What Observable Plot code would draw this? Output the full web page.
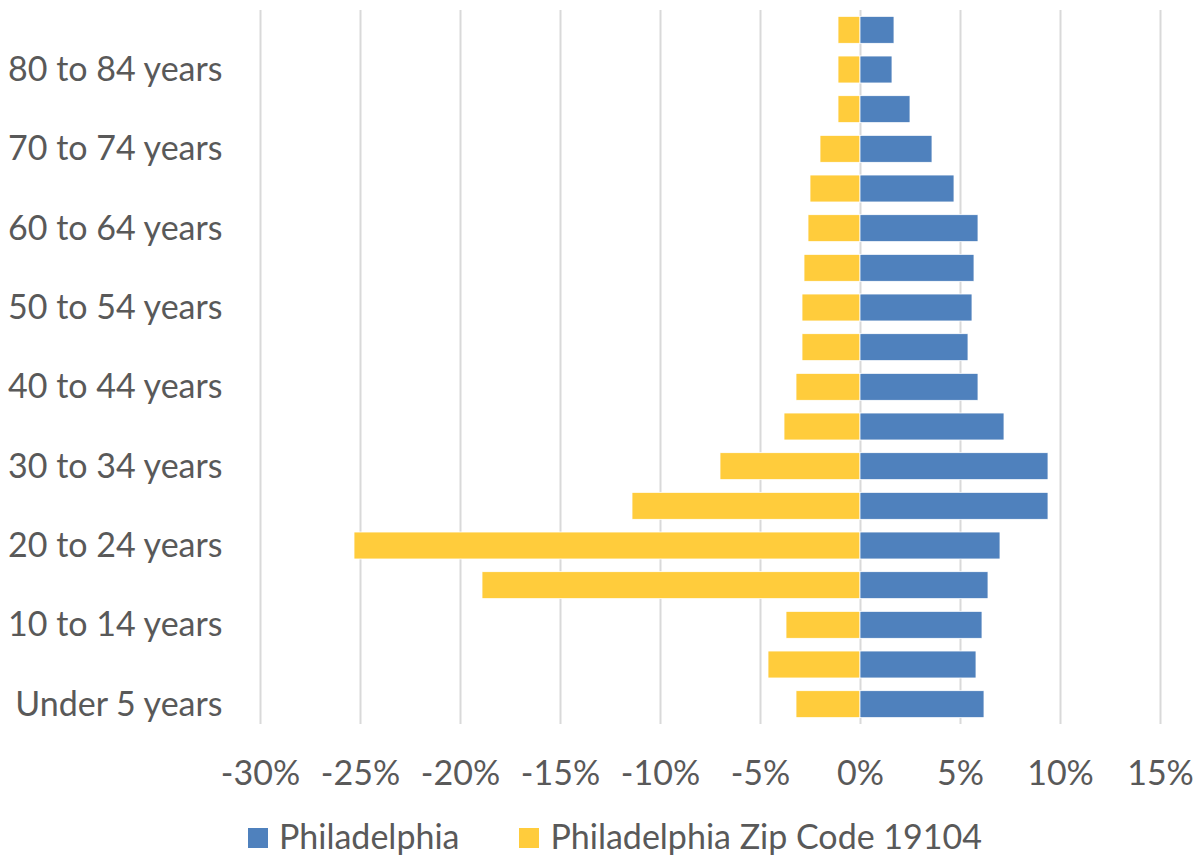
<!DOCTYPE html>
<html>
<head>
<meta charset="utf-8">
<script src="https://cdn.jsdelivr.net/npm/d3@7"></script>
<script src="https://cdn.jsdelivr.net/npm/@observablehq/plot@0.6"></script>
<style>
  html, body { margin: 0; padding: 0; background: #fff; }
  #chart { width: 1197px; height: 856px; position: relative; overflow: hidden; }
  #legend { position: absolute; left: 248px; top: 819px; display: flex; align-items: center;
            font-family: Lato, sans-serif; font-size: 34px; line-height: 34px; color: #595959; white-space: nowrap; }
  .item { display: flex; align-items: center; }
  .sw { width: 20px; height: 20px; margin-right: 11px; margin-top: 4px; }
</style>
</head>
<body>
<div id="chart"></div>
<script>
// Age groups, bottom to top
const ageGroups = [
  "Under 5 years", "5 to 9 years", "10 to 14 years", "15 to 19 years", "20 to 24 years",
  "25 to 29 years", "30 to 34 years", "35 to 39 years", "40 to 44 years", "45 to 49 years",
  "50 to 54 years", "55 to 59 years", "60 to 64 years", "65 to 69 years", "70 to 74 years",
  "75 to 79 years", "80 to 84 years", "85 years and over"
];
// Percent of population (Philadelphia on the right, zip 19104 as negatives on the left)
const philadelphia = [6.2, 5.8, 6.1, 6.4, 7.0, 9.4, 9.4, 7.2, 5.9, 5.4, 5.6, 5.7, 5.9, 4.7, 3.6, 2.5, 1.6, 1.7];
const zip19104 = [-3.2, -4.6, -3.7, -18.9, -25.3, -11.4, -7.0, -3.8, -3.2, -2.9, -2.9, -2.8, -2.6, -2.5, -2.0, -1.1, -1.1, -1.1];
const seriesNames = ["Philadelphia", "Philadelphia Zip Code 19104"];
const seriesColors = ["#4f81bd", "#ffcc3c"];
const xTicks = [-30, -25, -20, -15, -10, -5, 0, 5, 10, 15];
const yTickLabels = ["Under 5 years", "10 to 14 years", "20 to 24 years", "30 to 34 years",
  "40 to 44 years", "50 to 54 years", "60 to 64 years", "70 to 74 years", "80 to 84 years"];

const rowsA = philadelphia.map((v, i) => ({age: ageGroups[i], value: v}));
const rowsB = zip19104.map((v, i) => ({age: ageGroups[i], value: v}));

const chart = Plot.plot({
  width: 1197,
  height: 805,
  marginLeft: 260,
  marginRight: 37,
  marginTop: 10,
  marginBottom: 81,
  style: {fontFamily: "Lato, sans-serif", fontSize: "34px", color: "#595959", background: "#fff"},
  x: {domain: [-30, 15], ticks: xTicks, tickFormat: d => `${d}%`, tickSize: 0, tickPadding: 36, label: null},
  y: {domain: ageGroups.slice().reverse(), paddingInner: 0.32, paddingOuter: 0.16, round: false,
      ticks: yTickLabels, tickSize: 0, tickPadding: 38, label: null},
  marks: [
    Plot.ruleX(xTicks, {stroke: "#d9d9d9", strokeWidth: 2}),
    Plot.barX(rowsB, {x: "value", y: "age", fill: seriesColors[1], stroke: "#fff", strokeWidth: 0.8}),
    Plot.barX(rowsA, {x: "value", y: "age", fill: seriesColors[0], stroke: "#fff", strokeWidth: 0.8}),
    Plot.axisX({ticks: xTicks, tickFormat: d => `${d}%`, tickSize: 0, tickPadding: 36, fill: "#595959"}),
    Plot.axisY({ticks: yTickLabels, tickSize: 0, tickPadding: 38, fill: "#595959"})
  ]
});
const root = document.getElementById("chart");
root.appendChild(chart);

const legend = document.createElement("div");
legend.id = "legend";
seriesNames.forEach((name, i) => {
  const item = document.createElement("div");
  item.className = "item";
  if (i > 0) item.style.marginLeft = "60px";
  const sw = document.createElement("div");
  sw.className = "sw";
  sw.style.background = seriesColors[i];
  const t = document.createElement("span");
  t.textContent = name;
  item.appendChild(sw);
  item.appendChild(t);
  legend.appendChild(item);
});
root.appendChild(legend);
</script>
</body>
</html>
